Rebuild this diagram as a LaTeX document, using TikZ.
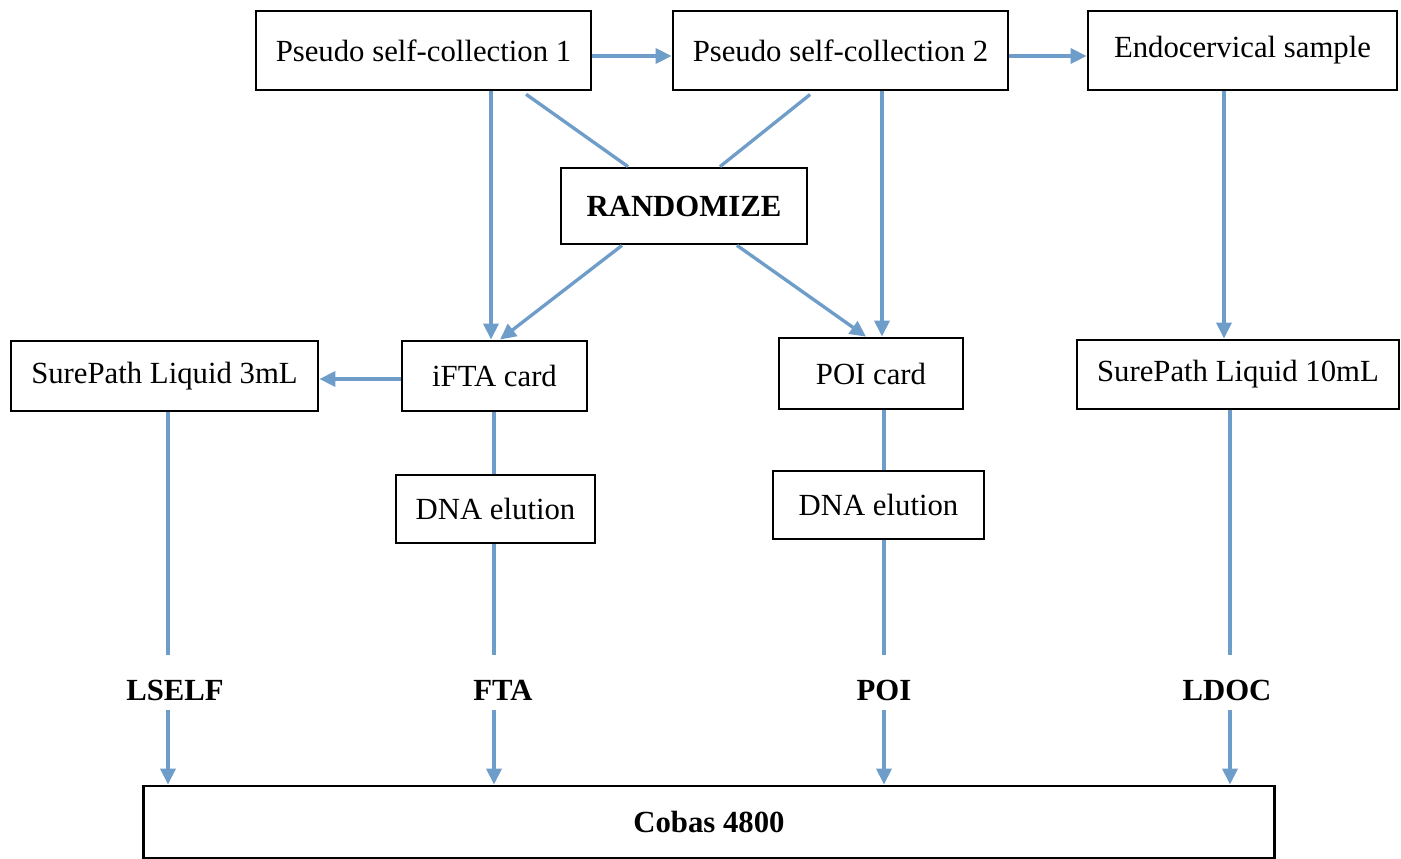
\documentclass[tikz,border=0pt]{standalone}
\usepackage{fontspec}
\setmainfont{Liberation Serif}
\usetikzlibrary{arrows.meta}
\definecolor{flowBlue}{RGB}{110,157,201}
\tikzset{
  procBox/.style={draw=black, line width=1.6pt, fill=white, inner sep=0pt, font=\fontsize{17.5}{21}\selectfont},
  flowLine/.style={draw=flowBlue, line width=1.9pt},
  flowArrow/.style={flowLine, -{Triangle[length=0.32cm,width=0.3cm]}},
  tagLabel/.style={font=\fontsize{17.5}{21}\selectfont\bfseries, inner sep=0pt, text height=0.9cm, text depth=0.2cm, anchor=base}
}

\begin{document}
\begin{tikzpicture}[x=0.02cm, y=-0.02cm]
  \useasboundingbox (0,0) rectangle (1401,859);
  % collection row
  \node[procBox, minimum width=6.7cm, minimum height=1.58cm] (psc1) at (423.5,50.5) {Pseudo self-collection 1};
  \node[procBox, minimum width=6.7cm, minimum height=1.58cm] (psc2) at (840.5,50.5) {Pseudo self-collection 2};
  \node[procBox, minimum width=6.18cm, minimum height=1.58cm] (endo) at (1242.5,50.5) {Endocervical sample};
  \node[procBox, minimum width=4.92cm, minimum height=1.52cm, font=\fontsize{17.5}{21}\selectfont\bfseries] (rand) at (684,206) {RANDOMIZE};
  % media row
  \node[procBox, minimum width=6.14cm, minimum height=1.4cm] (sp3) at (164.5,376) {SurePath Liquid 3mL};
  \node[procBox, minimum width=3.7cm, minimum height=1.4cm] (ifta) at (494.5,376) {iFTA card};
  \node[procBox, minimum width=3.68cm, minimum height=1.42cm] (poi) at (871,373.5) {POI card};
  \node[procBox, minimum width=6.44cm, minimum height=1.38cm] (sp10) at (1238,374.5) {SurePath Liquid 10mL};
  \node[procBox, minimum width=3.98cm, minimum height=1.36cm] (dna1) at (495.5,509) {DNA elution};
  \node[procBox, minimum width=4.22cm, minimum height=1.36cm] (dna2) at (878.5,505) {DNA elution};
  % assay labels
  \node[tagLabel] (lself) at (175,700) {LSELF};
  \node[tagLabel] (fta) at (503,700) {FTA};
  \node[tagLabel] (poilab) at (884,700) {POI};
  \node[tagLabel] (ldoc) at (1227,700) {LDOC};
  \node[procBox, minimum width=22.64cm, minimum height=1.44cm, font=\fontsize{17.5}{21}\selectfont\bfseries] (cobas) at (709,822) {Cobas 4800};

  \draw[flowArrow] (psc1.east |- 0,56) -- (psc2.west |- 0,56);
  \draw[flowArrow] (psc2.east |- 0,56) -- (endo.west |- 0,56);
  \draw[flowArrow] (psc1.south -| 491,0) -- (ifta.north -| 491,0);
  \draw[flowArrow] (psc2.south -| 882,0) -- (poi.north -| 882,0);
  \draw[flowArrow] (endo.south -| 1224,0) -- (sp10.north -| 1224,0);
  \draw[flowLine, shorten <=0.1cm] (psc1.south -| 522,0) -- (rand.north -| 628,0);
  \draw[flowLine, shorten <=0.1cm] (psc2.south -| 814,0) -- (rand.north -| 720,0);
  \draw[flowArrow] (rand.south -| 622,0) -- (ifta.north -| 500,0);
  \draw[flowArrow] (rand.south -| 737,0) -- (poi.north -| 866,0);
  \draw[flowArrow] (ifta.west |- 0,379) -- (sp3.east |- 0,379);
  \draw[flowLine] (ifta.south -| 494,0) -- (dna1.north -| 494,0);
  \draw[flowLine] (poi.south -| 884,0) -- (dna2.north -| 884,0);

  \draw[flowLine] (sp3.south -| 168,0) -- (lself.north -| 168,0);
  \draw[flowLine] (dna1.south -| 494,0) -- (fta.north -| 494,0);
  \draw[flowLine] (dna2.south -| 884,0) -- (poilab.north -| 884,0);
  \draw[flowLine] (sp10.south -| 1230,0) -- (ldoc.north -| 1230,0);
  \draw[flowArrow] (lself.south -| 168,0) -- (cobas.north -| 168,0);
  \draw[flowArrow] (fta.south -| 494,0) -- (cobas.north -| 494,0);
  \draw[flowArrow] (poilab.south -| 884,0) -- (cobas.north -| 884,0);
  \draw[flowArrow] (ldoc.south -| 1230,0) -- (cobas.north -| 1230,0);
\end{tikzpicture}
\end{document}
